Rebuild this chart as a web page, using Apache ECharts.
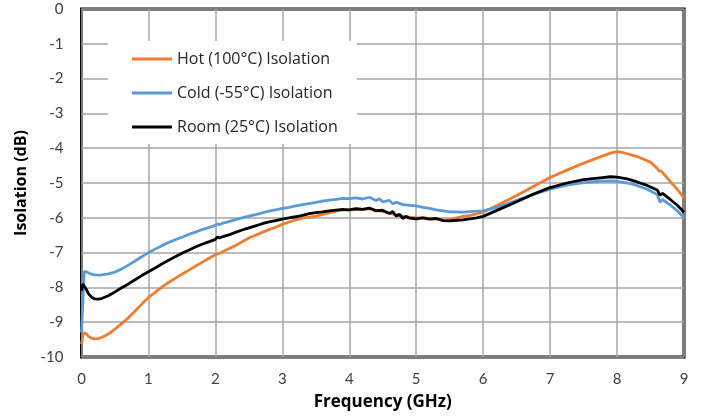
<!DOCTYPE html>
<html>
<head>
<meta charset="utf-8">
<script src="https://cdn.jsdelivr.net/npm/echarts@6/dist/echarts.min.js"></script>
<style>
  html, body { margin: 0; padding: 0; background: #fff; }
  #chart { width: 702px; height: 416px; }
</style>
</head>
<body>
<div id="chart"></div>
<script>
// Frequency sweep points (GHz) and isolation readings (dB) for each temperature
const hotFreq = [0.00,0.02,0.04,0.07,0.10,0.15,0.20,0.25,0.30,0.40,0.50,0.60,0.70,0.80,0.90,1.00,1.10,1.20,1.30,1.40,1.50,1.60,1.70,1.80,1.90,2.00,2.05,2.10,2.20,2.30,2.40,2.50,2.60,2.70,2.80,2.90,3.00,3.10,3.20,3.30,3.40,3.50,3.60,3.70,3.80,3.90,4.00,4.10,4.20,4.30,4.40,4.50,4.60,4.70,4.80,4.90,5.00,5.10,5.20,5.30,5.40,5.50,5.60,5.70,5.80,5.90,6.00,6.25,6.50,6.75,7.00,7.25,7.50,7.75,7.90,8.00,8.10,8.30,8.50,8.60,8.63,8.66,8.80,8.90,9.00];
const hotIso  = [-9.63,-9.40,-9.30,-9.33,-9.40,-9.46,-9.48,-9.47,-9.44,-9.34,-9.20,-9.04,-8.87,-8.68,-8.48,-8.29,-8.14,-7.99,-7.86,-7.74,-7.62,-7.51,-7.39,-7.28,-7.17,-7.06,-7.03,-6.98,-6.89,-6.80,-6.69,-6.58,-6.50,-6.42,-6.34,-6.27,-6.19,-6.12,-6.06,-6.01,-5.98,-5.95,-5.90,-5.86,-5.81,-5.78,-5.77,-5.75,-5.76,-5.74,-5.78,-5.82,-5.86,-5.92,-5.95,-5.98,-6.00,-6.00,-6.02,-6.04,-6.06,-6.05,-6.00,-5.96,-5.93,-5.89,-5.84,-5.60,-5.36,-5.10,-4.84,-4.63,-4.43,-4.25,-4.14,-4.10,-4.13,-4.24,-4.40,-4.58,-4.66,-4.66,-4.97,-5.18,-5.43];

const coldFreq = [0.00,0.02,0.04,0.07,0.10,0.15,0.20,0.25,0.30,0.40,0.50,0.60,0.70,0.80,0.90,1.00,1.10,1.20,1.30,1.40,1.50,1.60,1.70,1.80,1.90,2.00,2.03,2.06,2.10,2.20,2.30,2.40,2.50,2.60,2.70,2.80,2.90,3.00,3.10,3.20,3.30,3.40,3.50,3.60,3.70,3.80,3.90,4.00,4.10,4.20,4.30,4.40,4.45,4.50,4.60,4.65,4.70,4.80,4.90,5.00,5.10,5.20,5.30,5.40,5.50,5.60,5.70,5.80,5.90,6.00,6.25,6.50,6.75,7.00,7.25,7.50,7.75,7.90,8.00,8.15,8.30,8.45,8.60,8.64,8.68,8.80,8.90,9.00];
const coldIso  = [-9.30,-8.40,-7.55,-7.55,-7.58,-7.62,-7.64,-7.65,-7.64,-7.61,-7.56,-7.47,-7.36,-7.24,-7.12,-7.00,-6.90,-6.80,-6.71,-6.63,-6.56,-6.48,-6.41,-6.34,-6.28,-6.22,-6.17,-6.20,-6.16,-6.11,-6.05,-6.00,-5.95,-5.91,-5.86,-5.81,-5.77,-5.73,-5.70,-5.66,-5.62,-5.59,-5.56,-5.52,-5.49,-5.47,-5.44,-5.45,-5.43,-5.46,-5.41,-5.50,-5.45,-5.54,-5.50,-5.60,-5.55,-5.62,-5.64,-5.66,-5.70,-5.73,-5.77,-5.80,-5.83,-5.83,-5.84,-5.82,-5.81,-5.80,-5.68,-5.50,-5.33,-5.18,-5.06,-4.99,-4.95,-4.94,-4.95,-5.00,-5.07,-5.18,-5.33,-5.55,-5.48,-5.64,-5.80,-6.00];

const roomFreq = [0.00,0.02,0.04,0.07,0.10,0.15,0.20,0.25,0.30,0.40,0.50,0.60,0.70,0.80,0.90,1.00,1.10,1.20,1.30,1.40,1.50,1.60,1.70,1.80,1.90,2.00,2.03,2.06,2.10,2.20,2.30,2.40,2.50,2.60,2.70,2.80,2.90,3.00,3.10,3.20,3.30,3.40,3.50,3.60,3.70,3.80,3.90,4.00,4.10,4.20,4.30,4.40,4.50,4.60,4.65,4.70,4.75,4.80,4.85,4.90,5.00,5.10,5.20,5.30,5.40,5.50,5.60,5.70,5.80,5.90,6.00,6.25,6.50,6.75,7.00,7.25,7.50,7.75,7.90,8.00,8.15,8.30,8.45,8.60,8.64,8.68,8.80,8.90,9.00];
const roomIso  = [-8.10,-7.90,-7.93,-8.05,-8.17,-8.28,-8.33,-8.34,-8.32,-8.24,-8.13,-8.01,-7.90,-7.78,-7.66,-7.55,-7.44,-7.33,-7.22,-7.12,-7.02,-6.93,-6.84,-6.76,-6.69,-6.62,-6.55,-6.58,-6.55,-6.49,-6.42,-6.35,-6.29,-6.23,-6.17,-6.12,-6.08,-6.04,-6.00,-5.97,-5.93,-5.88,-5.85,-5.83,-5.80,-5.78,-5.76,-5.77,-5.74,-5.76,-5.72,-5.80,-5.78,-5.88,-5.82,-5.95,-5.90,-6.02,-5.96,-6.01,-6.03,-6.00,-6.04,-6.02,-6.08,-6.09,-6.07,-6.06,-6.03,-6.00,-5.96,-5.75,-5.54,-5.32,-5.13,-5.00,-4.90,-4.85,-4.82,-4.83,-4.88,-4.97,-5.07,-5.20,-5.35,-5.30,-5.48,-5.64,-5.84];

const seriesNames = ['Hot (100°C) Isolation', 'Cold (-55°C) Isolation', 'Room (25°C) Isolation'];
const seriesColors = ['#ED7D31', '#5B9BD5', '#000000'];

const zip = (xs, ys) => xs.map((x, i) => [x, ys[i]]);
const seriesData = [zip(hotFreq, hotIso), zip(coldFreq, coldIso), zip(roomFreq, roomIso)];

const chart = echarts.init(document.getElementById('chart'), null, { renderer: 'canvas' });
const labelFont = { fontFamily: 'Lato, "Open Sans", sans-serif', fontSize: 15, color: '#404040' };
const titleFont = { fontFamily: '"Open Sans", sans-serif', fontSize: 16, fontWeight: 'bold', color: '#000' };

chart.setOption({
  animation: false,
  backgroundColor: '#fff',
  grid: {
    left: 81.5, top: 9, right: 18, bottom: 58,
    show: true, borderColor: '#000', borderWidth: 3, backgroundColor: 'transparent'
  },
  legend: {
    orient: 'vertical',
    left: 108, top: 41,
    padding: [8, 19, 7, 24],
    backgroundColor: '#fff',
    itemWidth: 40, itemHeight: 3, itemGap: 14,
    icon: 'rect',
    textStyle: { fontFamily: '"Open Sans", sans-serif', fontSize: 16, color: '#262626', lineHeight: 20 },
    data: seriesNames
  },
  xAxis: {
    type: 'value', min: 0, max: 9, interval: 1,
    name: 'Frequency (GHz)', nameLocation: 'middle', nameGap: 37,
    nameTextStyle: Object.assign({}, titleFont, { fontSize: 17 }),
    axisLine: { show: false }, axisTick: { show: false },
    axisLabel: Object.assign({ margin: 15 }, labelFont),
    splitLine: { show: true, lineStyle: { color: '#a6a6a6', width: 1.5 } }
  },
  yAxis: {
    type: 'value', min: -10, max: 0, interval: 1,
    name: 'Isolation (dB)', nameLocation: 'middle', nameGap: 50,
    nameTextStyle: titleFont,
    axisLine: { show: false }, axisTick: { show: false },
    axisLabel: Object.assign({ margin: 18 }, labelFont),
    splitLine: { show: true, lineStyle: { color: '#a6a6a6', width: 1.5 } }
  },
  series: seriesNames.map((name, i) => ({
    name: name,
    type: 'line',
    data: seriesData[i],
    showSymbol: false,
    smooth: false,
    lineStyle: { color: seriesColors[i], width: 2.8 },
    itemStyle: { color: seriesColors[i] },
    z: 2 + i
  }))
});
</script>
</body>
</html>
